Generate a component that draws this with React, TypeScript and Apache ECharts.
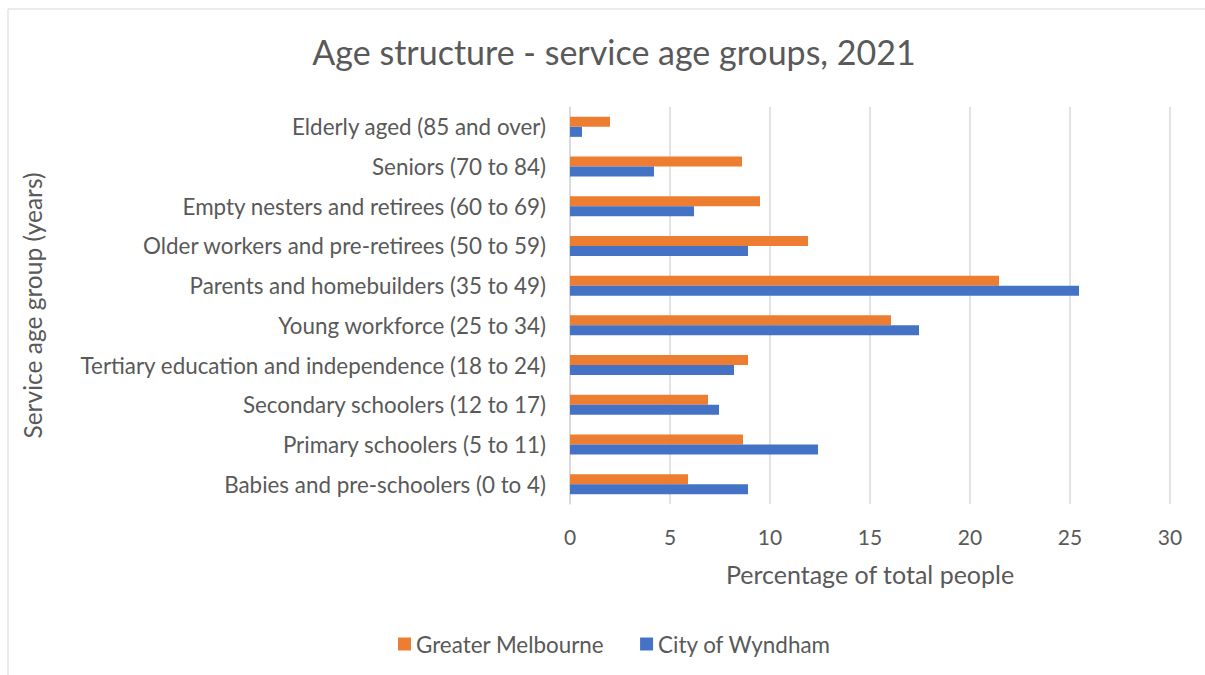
import React, { useEffect, useRef } from "react";
import * as echarts from "echarts";

const categories = [
  "Babies and pre-schoolers (0 to 4)",
  "Primary schoolers (5 to 11)",
  "Secondary schoolers (12 to 17)",
  "Tertiary education and independence (18 to 24)",
  "Young workforce (25 to 34)",
  "Parents and homebuilders (35 to 49)",
  "Older workers and pre-retirees (50 to 59)",
  "Empty nesters and retirees (60 to 69)",
  "Seniors (70 to 84)",
  "Elderly aged (85 and over)",
];
const greaterMelbourne = [5.9, 8.65, 6.9, 8.9, 16.05, 21.45, 11.9, 9.5, 8.6, 2.0];
const cityOfWyndham = [8.9, 12.4, 7.45, 8.2, 17.45, 25.45, 8.9, 6.2, 4.2, 0.6];
const xTicks = { min: 0, max: 30, interval: 5 };

const FONT = "Lato";
const GREY = "#595959";

export default function App() {
  const ref = useRef<HTMLDivElement>(null);
  useEffect(() => {
    const chart = echarts.init(ref.current!, null, { renderer: "svg" });
    chart.setOption({
      animation: false,
      backgroundColor: "#ffffff",
      textStyle: { fontFamily: FONT },
      title: {
        text: "Age structure - service age groups, 2021",
        left: 609,
        top: 29,
        textAlign: "center",
        textStyle: { fontFamily: FONT, fontSize: 34, fontWeight: "normal", color: GREY },
      },
      graphic: [
        {
          type: "rect",
          shape: { x: 8, y: 9, width: 1300, height: 800 },
          style: { fill: "none", stroke: "#d9d9d9", lineWidth: 1 },
          silent: true,
        },
      ],
      legend: {
        data: ["Greater Melbourne", "City of Wyndham"],
        bottom: 15,
        left: 393,
        itemWidth: 13,
        itemHeight: 13,
        itemGap: 36,
        icon: "rect",
        textStyle: { fontFamily: FONT, fontSize: 22.4, color: GREY },
      },
      grid: { left: 570, right: 35, top: 107, bottom: 171, containLabel: false },
      xAxis: {
        type: "value",
        min: xTicks.min,
        max: xTicks.max,
        interval: xTicks.interval,
        name: "Percentage of total people",
        nameLocation: "middle",
        nameGap: 57,
        nameTextStyle: { fontFamily: FONT, fontSize: 25, color: GREY },
        axisLine: { show: false },
        axisTick: { show: false },
        axisLabel: { fontFamily: FONT, fontSize: 21, color: GREY, margin: 22 },
        splitLine: { show: true, lineStyle: { color: "#d9d9d9", width: 1.5 } },
      },
      yAxis: {
        type: "category",
        data: categories,
        name: "Service age group (years)",
        nameLocation: "middle",
        nameGap: 525,
        nameRotate: 90,
        nameTextStyle: { fontFamily: FONT, fontSize: 24.5, color: GREY },
        axisLine: { show: true, lineStyle: { color: "#d9d9d9", width: 1.5 } },
        axisTick: { show: false },
        axisLabel: { fontFamily: FONT, fontSize: 22.4, color: GREY, margin: 24 },
      },
      series: [
        {
          name: "Greater Melbourne",
          type: "bar",
          data: greaterMelbourne,
          barWidth: 10,
          barGap: "0%",
          itemStyle: { color: "#ED7D31" },
        },
        {
          name: "City of Wyndham",
          type: "bar",
          data: cityOfWyndham,
          barWidth: 10,
          barGap: "0%",
          itemStyle: { color: "#4472C4" },
        },
      ],
    });
    return () => chart.dispose();
  }, []);
  return (
    <div
      ref={ref}
      style={{ position: "fixed", left: 0, top: 0, width: 1205, height: 675 }}
    />
  );
}
